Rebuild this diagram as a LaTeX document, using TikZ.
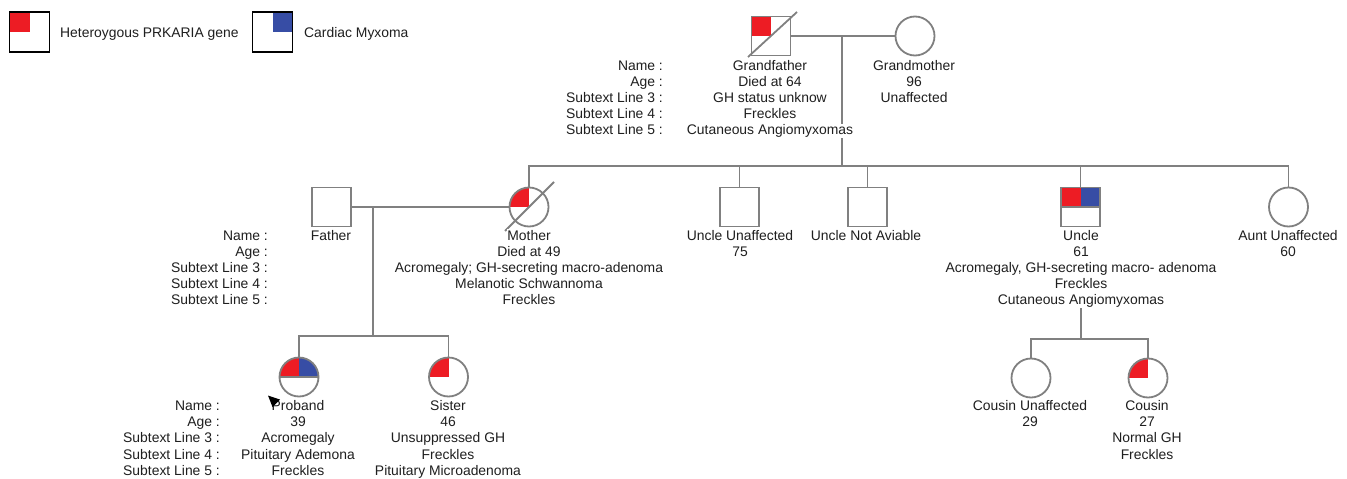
\documentclass[tikz,border=0pt]{standalone}
\usepackage{fontspec}
\setmainfont{Liberation Sans}
\definecolor{pr}{RGB}{237,28,36}
\definecolor{pb}{RGB}{55,77,165}
\definecolor{lc}{RGB}{128,128,128}
\newcommand\plabel[5]{%
  \foreach \plt [count=\pli] in {#5} {%
    \node[lbl,anchor=#4] (#1-\pli) at (#2,{#3+16.2*(\pli-1)}) {\plt};}}
\tikzset{
  lbl/.style={font=\fontsize{13.9}{16}\selectfont, inner xsep=0pt, inner ysep=0.5pt, fill=white, text=black!88},
  sym/.style={draw=lc, line width=1.8pt, minimum size=39pt, inner sep=0pt, fill=white},
  sq/.style={sym, rectangle},
  ci/.style={sym, circle},
  con/.style={draw=lc, line width=1.8pt},
  qr/.style={path picture={\fill[pr] (path picture bounding box.center) rectangle (path picture bounding box.north west);}},
  qb/.style={path picture={\fill[pb] (path picture bounding box.center) rectangle (path picture bounding box.north east);}},
  qrb/.style={path picture={\fill[pr] (path picture bounding box.center) rectangle (path picture bounding box.north west);
      \fill[pb] (path picture bounding box.center) rectangle (path picture bounding box.north east);
      \draw[lc,line width=1.8pt] (path picture bounding box.west) -- (path picture bounding box.east);}},
}
\begin{document}
\begin{tikzpicture}[x=1pt,y=-1pt]
\fill[white] (0,0) rectangle (1347,479);
\useasboundingbox (0,0) rectangle (1347,479);

% legend
\node[sq, draw=black, line width=1.7pt, minimum size=40pt, qr] (leg1) at (29.5,32) {};
\node[lbl, anchor=base west] (leg1t) at (60,37) {Heteroygous PRKARIA gene};
\node[sq, draw=black, line width=1.7pt, minimum size=40pt, qb] (leg2) at (272.5,32) {};
\node[lbl, anchor=base west] (leg2t) at (304,37) {Cardiac Myxoma};

% generation I
\node[sq, qr] (gf) at (771,36) {};
\node[ci] (gm) at (915,36) {};
% generation II
\node[sq] (fa) at (331.5,207) {};
\node[ci, qr] (mo) at (529,207) {};
\node[sq] (u1) at (739.5,207) {};
\node[sq] (u2) at (867.5,207) {};
\node[sq, qrb] (un) at (1080.5,207) {};
\node[ci] (au) at (1288.5,207) {};
% generation III
\node[ci, qrb] (pr) at (299,377) {};
\node[ci, qr] (si) at (448.5,377) {};
\node[ci] (c1) at (1031,378) {};
\node[ci, qr] (c2) at (1148,378) {};

% connectors
\coordinate (m1) at (842,36);
\coordinate (s1) at (842,166);
\draw[con] (gf.east) -- (gm.west);
\draw[con] (m1) -- (s1);
\draw[con] (mo.north) -- (mo.north |- s1) -- (au.north |- s1) -- (au.north);
\draw[con] (u1.north) -- (u1.north |- s1);
\draw[con] (u2.north) -- (u2.north |- s1);
\draw[con] (un.north) -- (un.north |- s1);
\coordinate (m2) at (373,207);
\coordinate (s2) at (373,336);
\draw[con] (fa.east) -- (mo.west);
\draw[con] (m2) -- (s2);
\draw[con] (pr.north) -- (pr.north |- s2) -- (si.north |- s2) -- (si.north);

% deceased slashes
\draw[con] ([shift={(-23,21)}]gf.center) -- ([shift={(26,-24)}]gf.center);
\draw[con] ([shift={(-24,24)}]mo.center) -- ([shift={(25,-25)}]mo.center);

% labels generation I
\plabel{l1}{663}{70}{base east}{Name :,Age :,Subtext Line 3 :,Subtext Line 4 :,Subtext Line 5 :}
\plabel{gft}{770}{70}{base}{Grandfather,Died at 64,GH status unknow,Freckles,Cutaneous Angiomyxomas}
\plabel{gmt}{914}{70}{base}{Grandmother,96,Unaffected}
% labels generation II
\plabel{l2}{268}{240}{base east}{Name :,Age :,Subtext Line 3 :,Subtext Line 4 :,Subtext Line 5 :}
\plabel{fat}{331}{240}{base}{Father}
\plabel{mot}{529}{240}{base}{Mother,Died at 49,Acromegaly; GH-secreting macro-adenoma,Melanotic Schwannoma,Freckles}
\plabel{u1t}{740}{240}{base}{Uncle Unaffected,75}
\plabel{u2t}{866}{240}{base}{Uncle Not Aviable}
\plabel{ut}{1081}{240}{base}{Uncle,61,{Acromegaly, GH-secreting macro- adenoma},Freckles,Cutaneous Angiomyxomas}
\plabel{aut}{1288}{240}{base}{Aunt Unaffected,60}
% labels generation III
\plabel{l3}{220}{410.5}{base east}{Name :,Age :,Subtext Line 3 :,Subtext Line 4 :,Subtext Line 5 :}
\plabel{prt}{298}{410.5}{base}{Proband,39,Acromegaly,Pituitary Ademona,Freckles}
\plabel{sit}{448}{410.5}{base}{Sister,46,Unsuppressed GH,Freckles,Pituitary Microadenoma}
\plabel{c1t}{1030}{410.5}{base}{Cousin Unaffected,29}
\plabel{c2t}{1147}{410.5}{base}{Cousin,27,Normal GH,Freckles}

% uncle's children
\coordinate (s3) at (1080.5,339);
\draw[con] (ut-5.south) -- (ut-5.south |- s3);
\draw[con] (c1.north) -- (c1.north |- s3) -- (c2.north |- s3) -- (c2.north);

% proband arrow
\fill[black] (268,395.5) -- (280,399.5) -- (272.5,407) -- cycle;
\end{tikzpicture}
\end{document}
